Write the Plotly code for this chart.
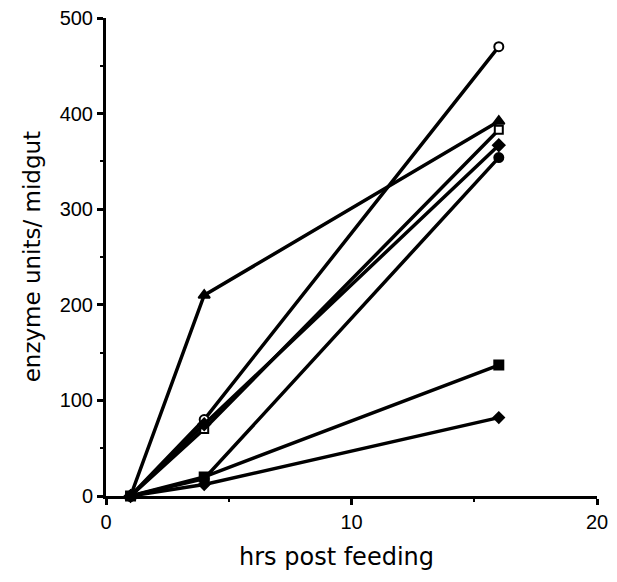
import plotly.graph_objects as go

hours = [1, 4, 16]

# enzyme units per midgut for each insect / series
open_circle = [0, 80, 470]
triangle = [0, 210, 392]
open_square = [0, 70, 383]
diamond = [0, 75, 367]
filled_circle = [0, 18, 354]
filled_square = [0, 20, 137]
small_diamond = [0, 12, 82]

series = [
    (open_circle, "circle", "white", 9),
    (triangle, "triangle-up", "black", 10),
    (open_square, "square", "white", 8),
    (diamond, "diamond", "black", 9),
    (filled_circle, "circle", "black", 9),
    (filled_square, "square", "black", 9),
    (small_diamond, "diamond", "black", 8),
]

fig = go.Figure()
for vals, sym, fill, size in series:
    fig.add_trace(go.Scatter(
        x=hours, y=vals, mode="lines+markers",
        line=dict(color="black", width=3.5),
        marker=dict(symbol=sym, size=size, color=fill,
                    line=dict(color="black", width=2)),
        cliponaxis=False, showlegend=False,
    ))

tick_font = dict(family="Liberation Sans, Arial, sans-serif", size=20, color="black")
title_font = dict(family="DejaVu Sans, sans-serif", size=24, color="black")

# page body has an 8px margin all round: keep the figure inside the window
fig.update_layout(
    width=601, height=566,
    margin=dict(l=98, r=12, t=10, b=78),
    plot_bgcolor="white", paper_bgcolor="white",
    font=tick_font,
    xaxis=dict(
        range=[0, 20], tickvals=[0, 10, 20], ticks="outside", ticklen=6,
        tickwidth=2.5, tickcolor="black", ticklabeloverflow="allow",
        minor=dict(tickvals=[5, 15], ticks="outside", ticklen=3, tickwidth=2, tickcolor="black"),
        showline=True, linewidth=3, linecolor="black", showgrid=False, zeroline=False,
        automargin=False, tickfont=tick_font,
    ),
    yaxis=dict(
        range=[0, 500], tickvals=[0, 100, 200, 300, 400, 500], ticks="outside", ticklen=6,
        tickwidth=2.5, tickcolor="black", ticklabeloverflow="allow",
        minor=dict(tickvals=[50, 150, 250, 350, 450], ticks="outside", ticklen=3, tickwidth=2, tickcolor="black"),
        showline=True, linewidth=3, linecolor="black", showgrid=False, zeroline=False,
        automargin=False, tickfont=tick_font,
    ),
    annotations=[
        dict(text="hrs post feeding", x=0.47, y=-0.128, xref="paper", yref="paper",
             xanchor="center", yanchor="middle", showarrow=False, font=title_font),
        dict(text="enzyme units/ midgut", x=-0.15, y=0.5, xref="paper", yref="paper",
             xanchor="center", yanchor="middle", textangle=-90, showarrow=False,
             font=dict(family="DejaVu Sans, sans-serif", size=23, color="black")),
    ],
)

fig.write_html("out.html")
